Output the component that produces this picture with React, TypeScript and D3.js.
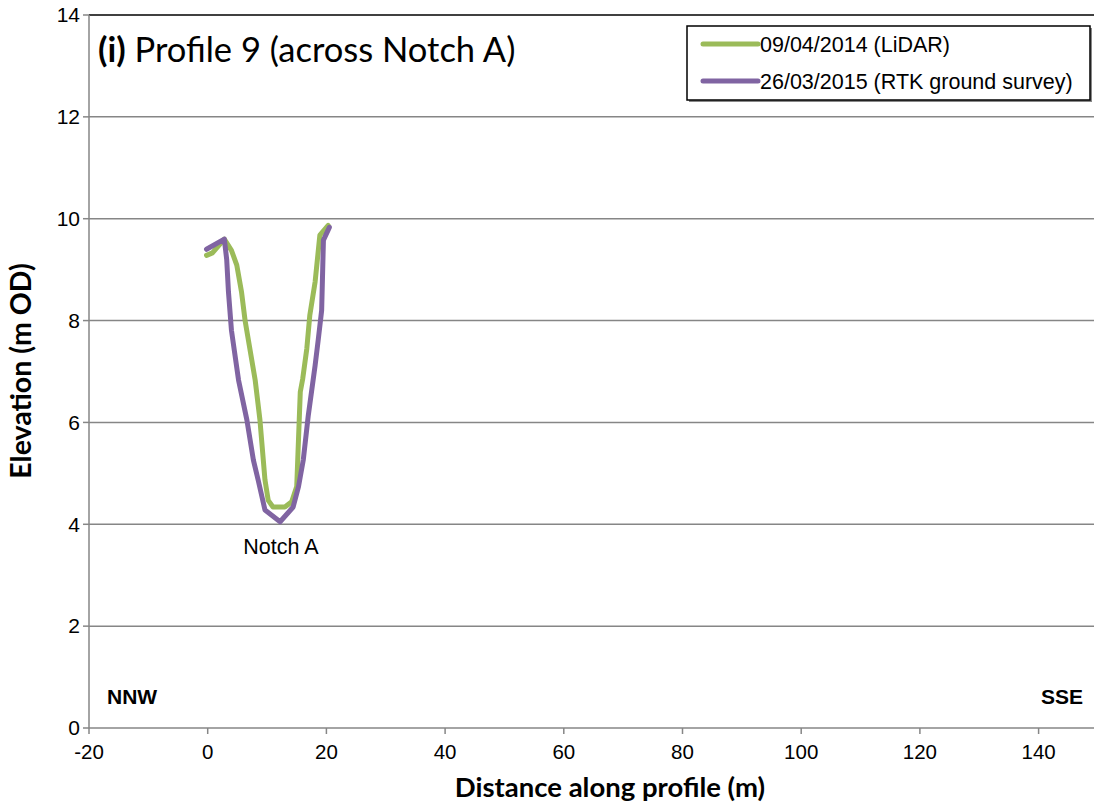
import React from "react";
import * as d3 from "d3";

const xTicks = [-20, 0, 20, 40, 60, 80, 100, 120, 140];
const yTicks = [0, 2, 4, 6, 8, 10, 12, 14];

const lidarDist = [-0.2, 0.8, 2.8, 4.0, 4.9, 5.7, 6.3, 8.0, 8.8, 9.65, 10.2, 11.0, 13.0, 14.15, 15.0, 15.6, 16.0, 16.7, 17.2, 18.1, 18.9, 20.3];
const lidarElev = [9.28, 9.33, 9.6, 9.38, 9.09, 8.56, 8.0, 6.83, 6.05, 4.87, 4.47, 4.34, 4.34, 4.44, 4.74, 6.6, 6.85, 7.45, 8.1, 8.76, 9.68, 9.87];

const rtkDist = [-0.2, 2.8, 3.2, 3.5, 4.0, 5.2, 6.6, 7.7, 8.5, 9.65, 12.2, 14.4, 15.3, 16.1, 16.95, 18.1, 18.6, 19.2, 19.5, 20.5];
const rtkElev = [9.4, 9.6, 9.2, 8.56, 7.81, 6.83, 6.05, 5.26, 4.87, 4.28, 4.05, 4.34, 4.74, 5.26, 6.14, 7.12, 7.6, 8.2, 9.58, 9.83];

const seriesNames = ["09/04/2014 (LiDAR)", "26/03/2015 (RTK ground survey)"];
const seriesColors = ["#9BBB59", "#8064A2"];

const W = 1094;
const H = 807;

export default function App() {
  const x = d3.scaleLinear().domain([-20, 150]).range([89, 89 + 170 * 5.935]);
  const y = d3.scaleLinear().domain([0, 14]).range([728, 15]);
  const line = d3
    .line<[number, number]>()
    .x((d) => x(d[0]))
    .y((d) => y(d[1]));
  const lidar: [number, number][] = lidarDist.map((d, i) => [d, lidarElev[i]]);
  const rtk: [number, number][] = rtkDist.map((d, i) => [d, rtkElev[i]]);
  const gridColor = "#868686";
  const tickFont = "'Liberation Sans', Arial, sans-serif";
  const calibri = "Lato, 'Open Sans', sans-serif";

  return (
    <svg
      width={W}
      height={H}
      style={{ position: "absolute", left: 0, top: 0, background: "#fff" }}
    >
      <rect x={0} y={0} width={W} height={H} fill="#fff" />
      {/* gridlines */}
      {yTicks.slice(1, -1).map((t) => (
        <line key={"g" + t} x1={x(-20)} x2={W} y1={y(t)} y2={y(t)} stroke={gridColor} strokeWidth={1.5} />
      ))}
      {/* top border */}
      <line x1={x(-20)} x2={W} y1={y(14)} y2={y(14)} stroke="#000" strokeWidth={1.5} />
      {/* y axis */}
      <line x1={x(-20)} x2={x(-20)} y1={y(14)} y2={y(0)} stroke={gridColor} strokeWidth={1.5} />
      {yTicks.map((t) => (
        <g key={"yt" + t}>
          <line x1={x(-20) - 6} x2={x(-20)} y1={y(t)} y2={y(t)} stroke={gridColor} strokeWidth={1.5} />
          <text x={80} y={y(t)} dy="0.35em" textAnchor="end" fontFamily={tickFont} fontSize={21} fill="#000">
            {t}
          </text>
        </g>
      ))}
      {/* x axis */}
      <line x1={x(-20)} x2={W} y1={y(0)} y2={y(0)} stroke={gridColor} strokeWidth={1.5} />
      {xTicks.map((t) => (
        <g key={"xt" + t}>
          <line x1={x(t)} x2={x(t)} y1={y(0)} y2={y(0) + 6} stroke={gridColor} strokeWidth={1.5} />
          <text x={x(t)} y={y(0) + 31} textAnchor="middle" fontFamily={tickFont} fontSize={20.5} fill="#000">
            {t}
          </text>
        </g>
      ))}
      {/* axis titles */}
      <text x={610} y={797} textAnchor="middle" fontFamily={calibri} fontWeight="bold" fontSize={27.5} fill="#000">
        Distance along profile (m)
      </text>
      <text
        transform={`translate(31, ${371}) rotate(-90)`}
        textAnchor="middle"
        fontFamily={calibri}
        fontWeight="bold"
        fontSize={28.5}
        fill="#000"
      >
        Elevation (m OD)
      </text>
      {/* title */}
      <text x={98} y={62} fontFamily={calibri} fontSize={34.5} fill="#000">
        <tspan fontWeight="bold">(i)</tspan> Profile 9 (across Notch A)
      </text>
      {/* direction labels */}
      <text x={107} y={704} fontFamily={tickFont} fontWeight="bold" fontSize={21} fill="#000">
        NNW
      </text>
      <text x={1083} y={704} textAnchor="end" fontFamily={tickFont} fontWeight="bold" fontSize={21} fill="#000">
        SSE
      </text>
      {/* annotation */}
      <text x={281} y={554} textAnchor="middle" fontFamily={tickFont} fontSize={21.5} fill="#000">
        Notch A
      </text>
      {/* series */}
      <path d={line(lidar) || ""} fill="none" stroke={seriesColors[0]} strokeWidth={5} strokeLinejoin="round" strokeLinecap="round" />
      <path d={line(rtk) || ""} fill="none" stroke={seriesColors[1]} strokeWidth={5} strokeLinejoin="round" strokeLinecap="round" />
      {/* legend */}
      <rect x={689} y={28} width={403} height={74} fill="#888" />
      <rect x={687} y={26} width={403} height={74} fill="#fff" stroke="#000" strokeWidth={1.5} />
      {seriesNames.map((n, i) => (
        <g key={n}>
          <line x1={703} x2={758} y1={44 + i * 37} y2={44 + i * 37} stroke={seriesColors[i]} strokeWidth={5} strokeLinecap="round" />
          <text x={760} y={44 + i * 37} dy="0.35em" fontFamily={tickFont} fontSize={21.5} fill="#000">
            {n}
          </text>
        </g>
      ))}
    </svg>
  );
}
